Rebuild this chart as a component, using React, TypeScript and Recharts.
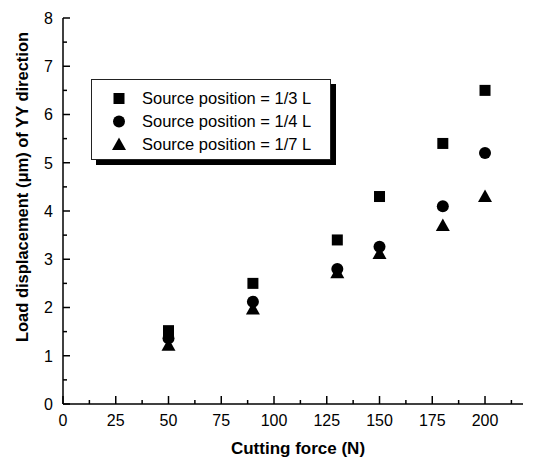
import React from 'react';
import { ScatterChart, Scatter, XAxis, YAxis, Legend, Label } from 'recharts';

const forces = [50, 90, 130, 150, 180, 200];
const oneThirdL = [1.52, 2.5, 3.4, 4.3, 5.4, 6.5];
const oneQuarterL = [1.36, 2.12, 2.8, 3.26, 4.1, 5.2];
const oneSeventhL = [1.22, 1.97, 2.72, 3.12, 3.7, 4.3];
const seriesNames = ['Source position = 1/3 L', 'Source position = 1/4 L', 'Source position = 1/7 L'];

// major + minor tick positions; labels only on the majors
const xTicks = [0, 12.5, 25, 37.5, 50, 62.5, 75, 87.5, 100, 112.5, 125, 137.5, 150, 162.5, 175, 187.5, 200, 212.5];
const yTicks = [0, 0.5, 1, 1.5, 2, 2.5, 3, 3.5, 4, 4.5, 5, 5.5, 6, 6.5, 7, 7.5, 8];

const FONT = '"Liberation Sans", Arial, Helvetica, sans-serif';

const toPoints = (vals: number[]) => forces.map((x, i) => ({ x, y: vals[i] }));

type Kind = 'square' | 'circle' | 'triangle';

function marker(kind: Kind, cx: number, cy: number) {
    if (kind === 'square') return <rect x={cx - 5.5} y={cy - 5.5} width={11} height={11} fill="#000" />;
    if (kind === 'circle') return <circle cx={cx} cy={cy} r={6} fill="#000" />;
    return <polygon points={`${cx},${cy - 7} ${cx - 7},${cy + 5.5} ${cx + 7},${cy + 5.5}`} fill="#000" />;
}

const shapeOf = (kind: Kind) => (props: any) => marker(kind, props.cx, props.cy);

const kinds: Kind[] = ['square', 'circle', 'triangle'];

function LegendBox() {
    return (
        <div
            style={{
                width: 240,
                height: 81,
                border: '1px solid #222',
                background: '#fff',
                boxShadow: '5px 5px 0 #000',
                fontFamily: FONT,
                fontSize: 16.5,
                color: '#000',
                paddingTop: 7,
                boxSizing: 'border-box',
            }}
        >
            {seriesNames.map((name, i) => (
                <div key={name} style={{ display: 'flex', alignItems: 'center', height: 23 }}>
                    <svg width={50} height={23} style={{ flex: 'none' }}>
                        {marker(kinds[i], 27, 11.5)}
                    </svg>
                    <span>{name}</span>
                </div>
            ))}
        </div>
    );
}

// inward tick marks drawn from the axis position recharts hands over
const XTick = (props: any) => {
    const { x, y, payload } = props;
    const major = payload.value % 25 === 0;
    return (
        <g>
            <line x1={x} x2={x} y1={y} y2={y - (major ? 8 : 4)} stroke="#000" strokeWidth={1.5} />
            {major && (
                <text x={x} y={y + 11} dy="0.71em" textAnchor="middle" fontFamily={FONT} fontSize={16} fill="#000">
                    {payload.value}
                </text>
            )}
        </g>
    );
};

const YTick = (props: any) => {
    const { x, y, payload } = props;
    const major = Number.isInteger(payload.value);
    return (
        <g>
            <line x1={x} x2={x + (major ? 7 : 4)} y1={y} y2={y} stroke="#000" strokeWidth={1.5} />
            {major && (
                <text x={x - 10} y={y} dy="0.36em" textAnchor="end" fontFamily={FONT} fontSize={16} fill="#000">
                    {payload.value}
                </text>
            )}
        </g>
    );
};

const YTitle = (props: any) => {
    const { x, y, height } = props.viewBox;
    const cx = x + 22;
    const cy = y + height / 2 - 24;
    return (
        <text
            x={cx}
            y={cy}
            transform={`rotate(-90, ${cx}, ${cy})`}
            textAnchor="middle"
            dy="0.36em"
            fontFamily={FONT}
            fontWeight="bold"
            fontSize={16.5}
            fill="#000"
        >
            Load displacement (μm) of YY direction
        </text>
    );
};

const XTitle = (props: any) => {
    const { x, y, width } = props.viewBox;
    return (
        <text
            x={x + width / 2 + 5}
            y={y + 50}
            textAnchor="middle"
            fontFamily={FONT}
            fontWeight="bold"
            fontSize={17}
            fill="#000"
        >
            Cutting force (N)
        </text>
    );
};

export default function App() {
    return (
        <div style={{ position: 'absolute', left: 0, top: 0, background: '#fff' }}>
            <ScatterChart width={533} height={460} margin={{ top: 18, right: 10, bottom: 0, left: 0 }}>
                <XAxis
                    dataKey="x"
                    type="number"
                    domain={[0, 218]}
                    allowDataOverflow
                    ticks={xTicks}
                    interval={0}
                    height={56}
                    tickSize={0}
                    tickMargin={0}
                    axisLine={{ stroke: '#000', strokeWidth: 1.5 }}
                    tickLine={false}
                    tick={<XTick />}
                >
                    <Label content={<XTitle />} />
                </XAxis>
                <YAxis
                    dataKey="y"
                    type="number"
                    domain={[0, 8]}
                    allowDataOverflow
                    ticks={yTicks}
                    interval={0}
                    width={63}
                    tickSize={0}
                    tickMargin={0}
                    axisLine={{ stroke: '#000', strokeWidth: 1.5 }}
                    tickLine={false}
                    tick={<YTick />}
                >
                    <Label content={<YTitle />} />
                </YAxis>
                <Legend
                    layout="vertical"
                    align="center"
                    verticalAlign="middle"
                    content={() => <LegendBox />}
                    wrapperStyle={{ left: 91, top: 79, width: 'auto' }}
                />
                <Scatter name={seriesNames[0]} data={toPoints(oneThirdL)} shape={shapeOf('square')} isAnimationActive={false} />
                <Scatter name={seriesNames[1]} data={toPoints(oneQuarterL)} shape={shapeOf('circle')} isAnimationActive={false} />
                <Scatter name={seriesNames[2]} data={toPoints(oneSeventhL)} shape={shapeOf('triangle')} isAnimationActive={false} />
            </ScatterChart>
        </div>
    );
}
